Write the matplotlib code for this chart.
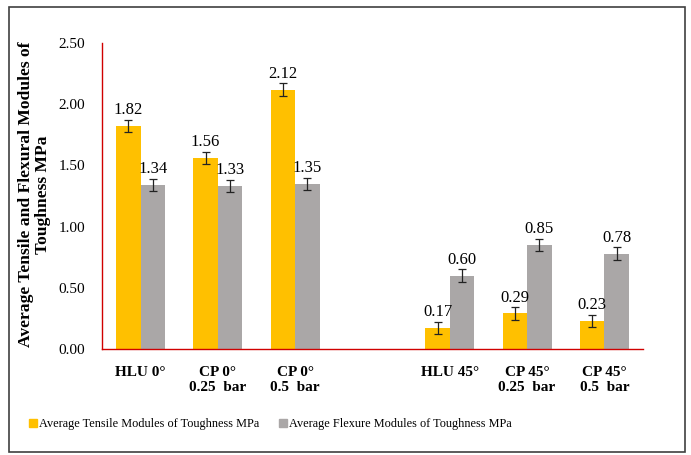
import numpy as np
import matplotlib.pyplot as plt
from matplotlib.patches import Rectangle

plt.rcParams['font.family'] = ['Liberation Serif', 'DejaVu Serif']

groups = ['HLU 0°', 'CP 0°\n0.25  bar', 'CP 0°\n0.5  bar', '',
          'HLU 45°', 'CP 45°\n0.25  bar', 'CP 45°\n0.5  bar']
tensile = [1.82, 1.56, 2.12, np.nan, 0.17, 0.29, 0.23]
flexure = [1.34, 1.33, 1.35, np.nan, 0.60, 0.85, 0.78]
tensile_err = [0.05, 0.05, 0.05, 0, 0.05, 0.05, 0.05]
flexure_err = [0.05, 0.05, 0.05, 0, 0.05, 0.05, 0.05]
names = ['Average Tensile Modules of Toughness MPa',
         'Average Flexure Modules of Toughness MPa']
colors = ['#FFC000', '#AAA7A7']

fig = plt.figure(figsize=(6.91, 4.55), dpi=100)
ax = fig.add_axes([0.1476, 0.233, 0.7829, 0.6725])

x = np.arange(len(groups))
w = 0.317
for off, vals, errs, c, n in [(-w / 2, tensile, tensile_err, colors[0], names[0]),
                              (w / 2, flexure, flexure_err, colors[1], names[1])]:
    ax.bar(x + off, vals, w, color=c, label=n)
    ax.errorbar(x + off, vals, yerr=errs, fmt='none', ecolor='#222222',
                elinewidth=0.9, capsize=3, capthick=0.9)
    for xi, v, e in zip(x + off, vals, errs):
        if np.isnan(v):
            continue
        ax.text(xi, v + e + 0.015, f'{v:.2f}', ha='center', va='bottom', fontsize=12)

ax.set_xlim(-0.5, len(groups) - 0.5)
ax.set_ylim(0, 2.5)
ax.set_yticks(np.arange(0, 2.51, 0.5))
ax.set_yticklabels([f'{t:.2f}' for t in np.arange(0, 2.51, 0.5)], fontsize=11)
ax.set_xticks(x)
ax.set_xticklabels(groups, fontsize=11, fontweight='bold')
ax.tick_params(length=0, pad=12)
for s in ['top', 'right']:
    ax.spines[s].set_visible(False)
for s in ['left', 'bottom']:
    ax.spines[s].set_color('#D00000')
    ax.spines[s].set_linewidth(1.0)

fig.text(0.05, 0.572, 'Average Tensile and Flexural Modules of\nToughness MPa',
         rotation=90, ha='center', va='center', fontsize=12.6, fontweight='bold',
         linespacing=1.1)

h = [plt.Line2D([], [], marker='s', ls='none', color=c, markersize=6) for c in colors]
fig.legend(h, names, loc='center', bbox_to_anchor=(0.39, 0.068), ncol=2,
           frameon=False, fontsize=8.8, handletextpad=0.0, columnspacing=1.4,
           handlelength=1.0)

fig.patches.append(Rectangle((0.013, 0.006), 0.978, 0.979, transform=fig.transFigure,
                             fill=False, edgecolor='#404040', linewidth=1.2))

fig.savefig('out.png', dpi=100)
